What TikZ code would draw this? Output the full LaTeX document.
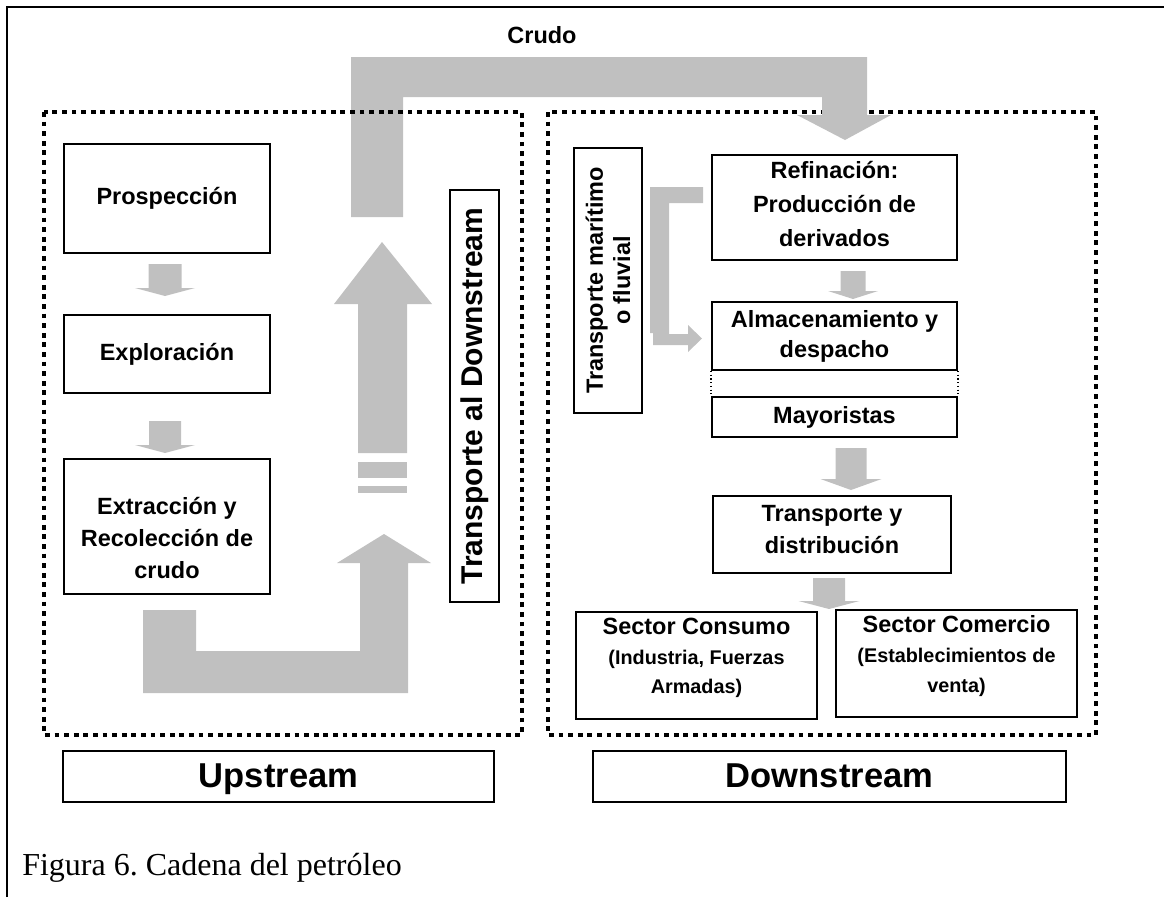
\documentclass[tikz,border=0pt]{standalone}
\usepackage{fontspec}
\setmainfont{Liberation Serif}
\newfontfamily\lsans{Liberation Sans}
\usetikzlibrary{fit,calc}

\definecolor{arrowgrey}{RGB}{192,192,192}

\newcommand{\fBox}{\lsans\bfseries\fontsize{17.6pt}{24pt}\selectfont}
\newcommand{\fSub}{\lsans\bfseries\fontsize{14.85pt}{22pt}\selectfont}
\newcommand{\fSide}{\lsans\bfseries\fontsize{22.5pt}{27pt}\selectfont}
\newcommand{\fHead}{\lsans\bfseries\fontsize{25.9pt}{30pt}\selectfont}
\newcommand{\fCap}{\fontsize{24pt}{28pt}\selectfont}

% grey block arrow pointing down: #1 start point, #2 tip point,
% #3 half shaft width, #4 half head width, #5 head length (picture units)
\newcommand{\downblock}[5]{%
  \fill[arrowgrey] let \p1=#1, \p2=#2 in
    (\x2-#3*0.75pt,\y1) -- (\x2+#3*0.75pt,\y1) -- (\x2+#3*0.75pt,\y2+#5*0.75pt)
    -- (\x2+#4*0.75pt,\y2+#5*0.75pt) -- (\x2,\y2) -- (\x2-#4*0.75pt,\y2+#5*0.75pt)
    -- (\x2-#3*0.75pt,\y2+#5*0.75pt) -- cycle;}

\begin{document}
\begin{tikzpicture}[x=0.75pt,y=-0.75pt,
  box/.style={draw, line width=1.5pt, inner sep=0pt},
  boxtext/.style={align=center, inner sep=0pt, font=\fBox},
  dotbox/.style={line width=3pt, dash pattern=on 3.6pt off 3.6pt},
  sepline/.style={line width=0.8pt, dotted}]
\useasboundingbox (0,0) rectangle (1164,897);

% page frame (top and left rules)
\draw[line width=1.9pt] (7,897) -- (7,7) -- (1164,7);

% downstream region (lies under the crude arrow)
\draw[dotbox] (548,112) rectangle (1096,735);

% crude oil arrow from upstream to refining
\fill[arrowgrey] (351,217) -- (351,57) -- (867,57) -- (867,115) -- (891,115)
  -- (845,140) -- (797,115) -- (822,115) -- (822,97) -- (403,97) -- (403,217) -- cycle;
\node[font=\fBox] (crudo) at (542,35) {Crudo};

% upstream region
\draw[dotbox] (44,112) rectangle (522,735);

% upstream chain
\node[box, fit={(64,144) (270,253)}] (prosp) {};
\node[boxtext] at (prosp.center) {Prospección};
\node[box, fit={(64,315) (270,393)}] (expl) {};
\node[boxtext] at (expl.center) {Exploración};
\node[box, fit={(64,459) (270,594)}] (extr) {};
\node[boxtext] at (167,538) {Extracción y\\Recolección de\\crudo};

\downblock{($(prosp.south)+(0,10)$)}{($(expl.north)+(-2,-18)$)}{16.5}{30}{8}
\downblock{($(expl.south)+(0,27)$)}{($(extr.north)+(-2,-5)$)}{16}{30}{8}

% transport to downstream
\fill[arrowgrey] (143,610) -- (196,610) -- (196,651) -- (360,651) -- (360,563)
  -- (337,563) -- (384,534) -- (431,563) -- (408,563) -- (408,693) -- (143,693) -- cycle;
\fill[arrowgrey] (358,453) -- (358,304) -- (334,304) -- (382,242) -- (432,304)
  -- (407,304) -- (407,453) -- cycle;
\fill[arrowgrey] (358,462) rectangle (407,478);
\fill[arrowgrey] (358,486) rectangle (407,493);

\node[box, fit={(450,190) (499,602)}] (tad) {};
\node[rotate=90, font=\fSide, inner sep=0pt] at (tad.center) {Transporte al Downstream};

% downstream chain
\node[box, fit={(574,148) (642,413)}] (tmf) {};
\node[rotate=90, align=center, inner sep=0pt,
  font={\lsans\bfseries\fontsize{17.6pt}{20.3pt}\selectfont}] at (tmf.center)
  {Transporte marítimo\\o fluvial};

\fill[arrowgrey] (650,187) -- (703,187) -- (703,203) -- (669,203) -- (669,334)
  -- (688,334) -- (688,325) -- (702,338.5) -- (688,352) -- (688,345)
  -- (653,345) -- (653,333) -- (650,333) -- cycle;

\node[box, fit={(712,155) (957,260)}] (refi) {};
\node[boxtext, font={\lsans\bfseries\fontsize{17.6pt}{25.5pt}\selectfont}]
  at ($(refi.center)+(0,-3)$) {Refinación:\\Producción de\\derivados};
\node[box, fit={(712,302) (957,370)}] (alma) {};
\node[boxtext, font={\lsans\bfseries\fontsize{17.6pt}{22.5pt}\selectfont}]
  at (alma.center) {Almacenamiento y\\despacho};
\node[box, fit={(712,397) (957,437)}] (mayo) {};
\node[boxtext] at (mayo.center) {Mayoristas};
\draw[sepline] (alma.south west) -- (mayo.north west);
\draw[sepline] (alma.south east) -- (mayo.north east);

\node[box, fit={(713,496) (951,573)}] (tyd) {};
\node[boxtext] at (832,530) {Transporte y\\distribución};

\node[box, fit={(576,612) (817,719)}] (cons) {};
\node[boxtext, font={\lsans\bfseries\fontsize{17.6pt}{22.2pt}\selectfont}]
  at (696.5,658) {Sector Consumo\\{\fSub (Industria, Fuerzas}\\{\fSub Armadas)}};
\node[box, fit={(836,610) (1077,717)}] (come) {};
\node[boxtext, font={\lsans\bfseries\fontsize{17.6pt}{22.2pt}\selectfont}]
  at (956.5,656) {Sector Comercio\\{\fSub (Establecimientos de}\\{\fSub venta)}};

\downblock{($(refi.south)+(0,10)$)}{($(alma.north)+(18.5,-2)$)}{12.5}{25}{8}
\downblock{($(mayo.south)+(0,10)$)}{($(tyd.north)+(19,-5)$)}{15.5}{30.5}{11}
\downblock{($(tyd.south)+(0,4)$)}{($(cons.north east)!0.5!(come.north west)+(2.5,-1)$)}{16}{30.5}{8}

% section labels
\node[box, fit={(63,751) (494,802)}] (up) {};
\node[font=\fHead, inner sep=0pt, anchor=base] at (up.center |- 0,787) {Upstream};
\node[box, fit={(593,751) (1066,802)}] (down) {};
\node[font=\fHead, inner sep=0pt, anchor=base] at (down.center |- 0,787) {Downstream};

% caption
\node[anchor=base west, inner sep=0pt, font=\fCap] (cap) at (22,875)
  {Figura 6.\ Cadena del petróleo};
\end{tikzpicture}
\end{document}
